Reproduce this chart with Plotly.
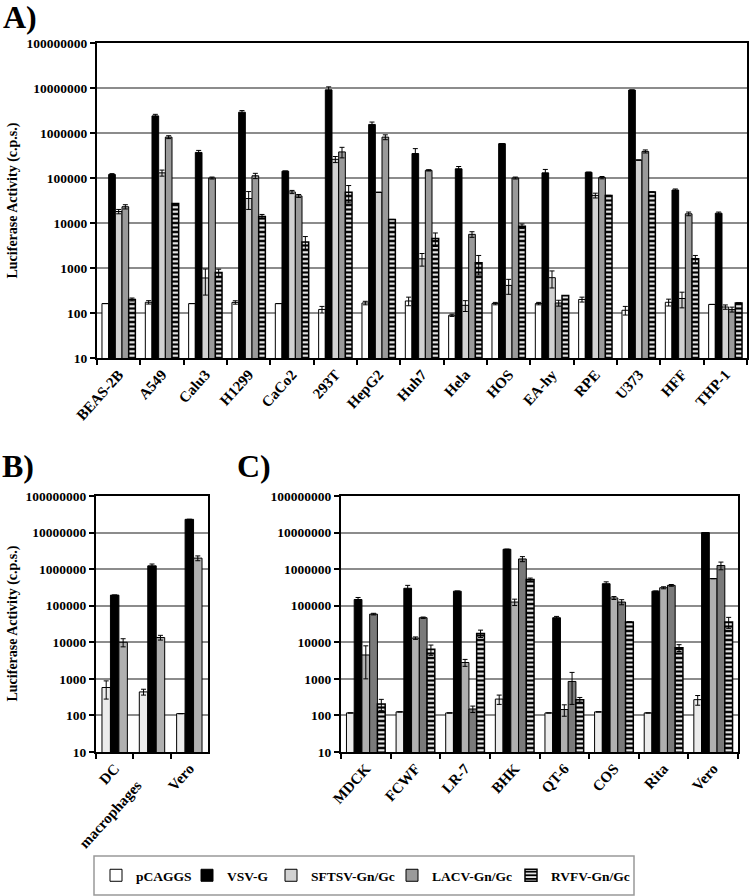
import plotly.graph_objects as go

# ---------------- data ----------------
series_names = ["pCAGGS", "VSV-G", "SFTSV-Gn/Gc", "LACV-Gn/Gc", "RVFV-Gn/Gc"]

cells_A = ["BEAS-2B", "A549", "Calu3", "H1299", "CaCo2", "293T", "HepG2", "Huh7",
           "Hela", "HOS", "EA-hy", "RPE", "U373", "HFF", "THP-1"]
A_pcaggs = [162, 173, 162, 172, 162, 120, 167, 185, 89, 162, 162, 200, 115, 173, 155]
A_vsvg = [120000, 2400000, 370000, 2900000, 142000, 9100000, 1550000, 350000,
          160000, 580000, 130000, 134000, 9000000, 54000, 16500]
A_sftsv = [18000, 130000, 600, 35000, 49000, 260000, 48000, 1600, 148, 410, 610,
           41000, 250000, 210, 136]
A_lacv = [23000, 810000, 100000, 112000, 40000, 380000, 810000, 148000, 5600,
          100000, 167, 102000, 390000, 16000, 120]
A_rvfv = [200, 27000, 790, 14000, 3800, 48000, 12000, 4500, 1300, 8500, 244,
          41000, 49000, 1600, 167]
A_pcaggs_err = [0, 15, 0, 15, 0, 20, 15, 40, 5, 10, 10, 25, 25, 30, 0]
A_vsvg_err = [5000, 200000, 40000, 250000, 0, 1500000, 200000, 100000, 20000, 0,
              25000, 0, 0, 3000, 1000]
A_sftsv_err = [2000, 20000, 350, 15000, 4000, 40000, 0, 500, 40, 150, 250, 5000,
               0, 80, 15]
A_lacv_err = [2500, 60000, 5000, 15000, 3000, 100000, 100000, 5000, 800, 5000, 25,
              6000, 30000, 1500, 15]
A_rvfv_err = [15, 0, 150, 1500, 1200, 20000, 0, 1500, 600, 1000, 0, 0, 0, 300, 0]

cells_B = ["DC", "macrophages", "Vero"]
B_pcaggs = [580, 440, 112]
B_vsvg = [195000, 1230000, 23000000]
B_sftsv = [10000, 13500, 2000000]
B_pcaggs_err = [300, 80, 0]
B_vsvg_err = [0, 150000, 0]
B_sftsv_err = [2500, 2000, 300000]

cells_C = ["MDCK", "FCWF", "LR-7", "BHK", "QT-6", "COS", "Rita", "Vero"]
C_pcaggs = [117, 125, 117, 280, 117, 125, 117, 270]
C_vsvg = [148000, 300000, 250000, 3500000, 47000, 400000, 250000, 10000000]
C_sftsv = [4500, 13000, 2800, 126000, 145, 163000, 310000, 550000]
C_lacv = [59000, 47000, 150, 1900000, 850, 126000, 360000, 1260000]
C_rvfv = [205, 6400, 17500, 520000, 270, 36000, 7100, 36000]
C_pcaggs_err = [0, 0, 0, 80, 0, 0, 0, 80]
C_vsvg_err = [20000, 60000, 0, 0, 4000, 50000, 0, 0]
C_sftsv_err = [3500, 1000, 600, 25000, 50, 15000, 20000, 0]
C_lacv_err = [3000, 2000, 30, 300000, 650, 20000, 20000, 300000]
C_rvfv_err = [70, 2000, 4000, 50000, 40, 0, 1500, 12000]

tick_vals = [10, 100, 1000, 10000, 100000, 1000000, 10000000, 100000000]
tick_text = ["10", "100", "1000", "10000", "100000", "1000000", "10000000", "100000000"]

# ---------------- styling ----------------
W, H = 750, 896
FONT = "Liberation Serif"
LEGEND_ENTRY_W = [46, 39, 76, 74, 80]


def px_x(p):
    return p / W


def px_y(p):
    return 1 - p / H


def marker_for(i, panel):
    if i == 0:
        col = "white" if panel == "A" else "#ececec"
        return dict(color=col, line=dict(color="black", width=1))
    if i == 1:
        return dict(color="black", line=dict(color="black", width=1))
    if i == 2:
        col = "#d2d2d2" if panel == "A" else "#b0b0b0"
        return dict(color=col, line=dict(color="black", width=1))
    if i == 3:
        col = "#9a9a9a" if panel == "A" else "#7a7a7a"
        return dict(color=col, line=dict(color="black", width=1))
    return dict(color="black", line=dict(color="black", width=1.5),
                pattern=dict(shape="-", fgcolor="white", bgcolor="black",
                             size=4.5, solidity=0.45, fillmode="replace"))


fig = go.Figure()


def add_panel(cats, vals_list, errs_list, xa, ya, panel, span, showlegend):
    n = len(vals_list)
    w = span / n
    for i, (vals, errs) in enumerate(zip(vals_list, errs_list)):
        fig.add_trace(go.Bar(
            x=cats, y=vals, name=series_names[i], legendgroup=series_names[i],
            showlegend=showlegend, legendwidth=LEGEND_ENTRY_W[i],
            xaxis=xa, yaxis=ya,
            width=w, offset=-span / 2 + i * w,
            marker=marker_for(i, panel),
            error_y=dict(type="data", array=errs, visible=True,
                         color="black", thickness=1, width=2.5),
        ))


add_panel(cells_A, [A_pcaggs, A_vsvg, A_sftsv, A_lacv, A_rvfv],
          [A_pcaggs_err, A_vsvg_err, A_sftsv_err, A_lacv_err, A_rvfv_err],
          "x", "y", "A", 0.77, True)
add_panel(cells_B, [B_pcaggs, B_vsvg, B_sftsv],
          [B_pcaggs_err, B_vsvg_err, B_sftsv_err],
          "x2", "y2", "B", 0.68, False)
add_panel(cells_C, [C_pcaggs, C_vsvg, C_sftsv, C_lacv, C_rvfv],
          [C_pcaggs_err, C_vsvg_err, C_sftsv_err, C_lacv_err, C_rvfv_err],
          "x3", "y3", "C", 0.78, False)

ytickfont = dict(family=FONT, size=13.5, color="black", weight="bold")
xtickfont = dict(family=FONT, size=15, color="black", weight="bold")


def xaxis(domain, anchor):
    return dict(domain=domain, anchor=anchor, type="category", automargin=False,
                showline=True, linecolor="black", linewidth=2, mirror=True,
                ticks="outside", tickson="boundaries", ticklen=5, tickwidth=2,
                tickcolor="black", tickangle=-48, tickfont=xtickfont,
                showgrid=False, fixedrange=True)


def yaxis(domain, anchor):
    return dict(domain=domain, anchor=anchor, type="log", range=[1, 8],
                automargin=False,
                tickvals=tick_vals, ticktext=tick_text,
                showline=True, linecolor="black", linewidth=2, mirror=True,
                ticks="outside", ticklen=5, tickwidth=2, tickcolor="black",
                tickfont=ytickfont, showgrid=True, gridcolor="#8c8c8c",
                gridwidth=1.5, zeroline=False, fixedrange=True)


# panel B: the long label is staggered lower, as in the original
xaxis2 = xaxis([px_x(96), px_x(208)], "y2")
xaxis2["tickvals"] = cells_B
xaxis2["ticktext"] = [c + "\u00a0" * 6 if len(c) > 6 else c for c in cells_B]

fig.update_layout(
    width=W, height=H,
    margin=dict(l=0, r=0, t=0, b=0, autoexpand=False),
    paper_bgcolor="white", plot_bgcolor="white",
    barmode="group",
    font=dict(family=FONT, color="black"),
    xaxis=xaxis([px_x(97), px_x(747)], "y"),
    yaxis=yaxis([px_y(358), px_y(43)], "x"),
    xaxis2=xaxis2,
    yaxis2=yaxis([px_y(752), px_y(496)], "x2"),
    xaxis3=xaxis([px_x(341), px_x(738)], "y3"),
    yaxis3=yaxis([px_y(752), px_y(496)], "x3"),
    legend=dict(orientation="h", x=px_x(96), y=px_y(875.5),
                xanchor="left", yanchor="middle",
                bgcolor="rgba(0,0,0,0)", borderwidth=0,
                font=dict(family=FONT, size=13.5, color="black", weight="bold"),
                itemwidth=30, tracegroupgap=0, traceorder="normal"),
    shapes=[dict(type="rect", xref="paper", yref="paper",
                 x0=px_x(94), x1=px_x(634), y0=px_y(895), y1=px_y(856),
                 line=dict(color="#999999", width=1.5), fillcolor="rgba(0,0,0,0)",
                 layer="below")],
)

# panel letters
for txt, x, y in [("A)", 1, -3), ("B)", 0, 446), ("C)", 235, 446)]:
    fig.add_annotation(text="<b>" + txt + "</b>", xref="paper", yref="paper",
                       x=px_x(x), y=px_y(y), xanchor="left", yanchor="top",
                       showarrow=False, font=dict(family=FONT, size=32, color="black"))

# y-axis titles
for yc in [201, 624]:
    fig.add_annotation(text="<b>Luciferase Activity (c.p.s.)</b>", xref="paper",
                       yref="paper", x=px_x(12.5), y=px_y(yc), textangle=-90,
                       xanchor="center", yanchor="middle", showarrow=False,
                       font=dict(family=FONT, size=14, color="black"))

fig.write_html("out.html", config={"displayModeBar": False},
               post_script="document.body.style.margin='0px';")
